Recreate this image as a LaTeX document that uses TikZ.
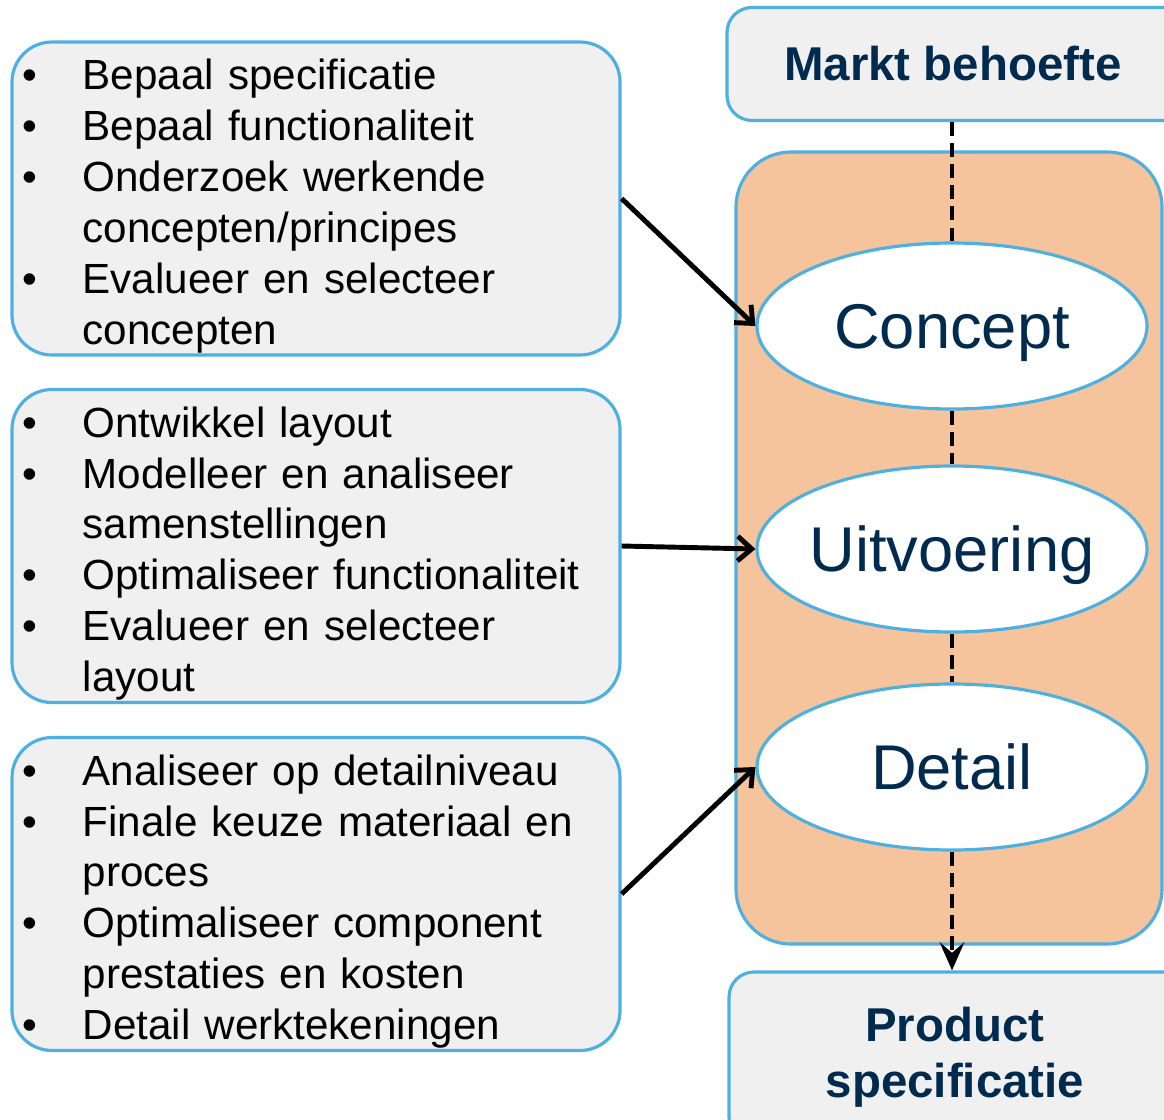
\documentclass[tikz,border=0pt]{standalone}
\usepackage{fontspec}
\setmainfont{Liberation Sans}
\usetikzlibrary{shapes.geometric,arrows.meta}

\definecolor{navy}{HTML}{002B4E}
\definecolor{skyline}{HTML}{4DB0E0}
\definecolor{boxgray}{HTML}{F0F0F0}
\definecolor{peach}{HTML}{F6C49C}

\newcommand{\dotitem}{\makebox[34pt][l]{\textbullet}}
\newcommand{\noitem}{\hspace*{34pt}}
\newcommand{\topline}{\rule{0pt}{26pt}}
\newcommand{\phasename}[1]{\makebox[0pt]{#1}}
\newcommand{\nudge}{\hspace*{-12pt}}

\tikzset{
	listbox/.style={draw=skyline, line width=1.8pt, fill=boxgray, rounded corners=8mm,
		minimum width=121.6mm, minimum height=62.6mm, text width=117.2mm,
		inner xsep=2.2mm, inner ysep=0pt, align=left, font=\fontsize{24}{29}\selectfont},
	phase/.style={ellipse, draw=skyline, line width=1.8pt, fill=white, text=navy,
		minimum width=78mm, minimum height=33.2mm, inner sep=0pt,
		text height=26pt, text depth=0pt, font=\fontsize{36}{43}\selectfont},
	endbox/.style={draw=skyline, line width=1.8pt, fill=boxgray, rounded corners=5mm,
		text=navy, align=center, minimum width=94.6mm,
		font=\bfseries\fontsize{27}{32}\selectfont},
	flow/.style={line width=2.6pt, dash pattern=on 8pt off 4pt},
	feed/.style={line width=2.8pt, -{Straight Barb[length=8pt,width=14pt]}}
}

\begin{document}
\begin{tikzpicture}[x=0.2mm,y=-0.2mm]

	\clip (0,0) rectangle (1164,1119);

	% Orange band with the three phases
	\node[draw=skyline, line width=1.8pt, fill=peach, rounded corners=11mm,
		minimum width=85.2mm, minimum height=158.4mm] (stages) at (949,548) {};

	\node[phase] (concept) at (952,326) {\phasename{Concept}};
	\node[phase] (uitvoering) at (952,549) {\phasename{Uitvoering}};
	\node[phase] (detail) at (952,767) {\phasename{Detail}};

	% Start and end (both run off the right edge)
	\node[endbox, minimum height=22.6mm] (markt) at (963.5,64) {\nudge Markt behoefte};
	\node[endbox, minimum height=34mm] (product) at (965.5,1057) {\nudge Product\\\nudge specificatie};

	% Lists of activities
	\node[listbox] (box1) at (316,198.5) {
		\topline\dotitem Bepaal specificatie\\
		\dotitem Bepaal functionaliteit\\
		\dotitem Onderzoek werkende\\
		\noitem concepten/principes\\
		\dotitem Evalueer en selecteer\\
		\noitem concepten};
	\node[listbox] (box2) at (316,546) {
		\topline\dotitem Ontwikkel layout\\
		\dotitem Modelleer en analiseer\\
		\noitem samenstellingen\\
		\dotitem Optimaliseer functionaliteit\\
		\dotitem Evalueer en selecteer\\
		\noitem layout};
	\node[listbox] (box3) at (316,894) {
		\topline\dotitem Analiseer op detailniveau\\
		\dotitem Finale keuze materiaal en\\
		\noitem proces\\
		\dotitem Optimaliseer component\\
		\noitem prestaties en kosten\\
		\dotitem Detail werktekeningen};

	% Dashed flow
	\draw[flow] (markt.south -| concept) -- (concept.north);
	\draw[flow] (concept.south) -- (uitvoering.north);
	\draw[flow] (uitvoering.south) -- (detail.north);
	\draw[flow, -{Stealth[length=16pt,width=14pt,inset=6pt]}] (detail.south) -- (product.north -| detail);

	% Arrows into the phases
	\draw[feed] (box1.east) -- (concept.west);
	\draw[feed] (box2.east) -- (uitvoering.west);
	\draw[feed] (box3.east) -- (detail.west);

\end{tikzpicture}
\end{document}
